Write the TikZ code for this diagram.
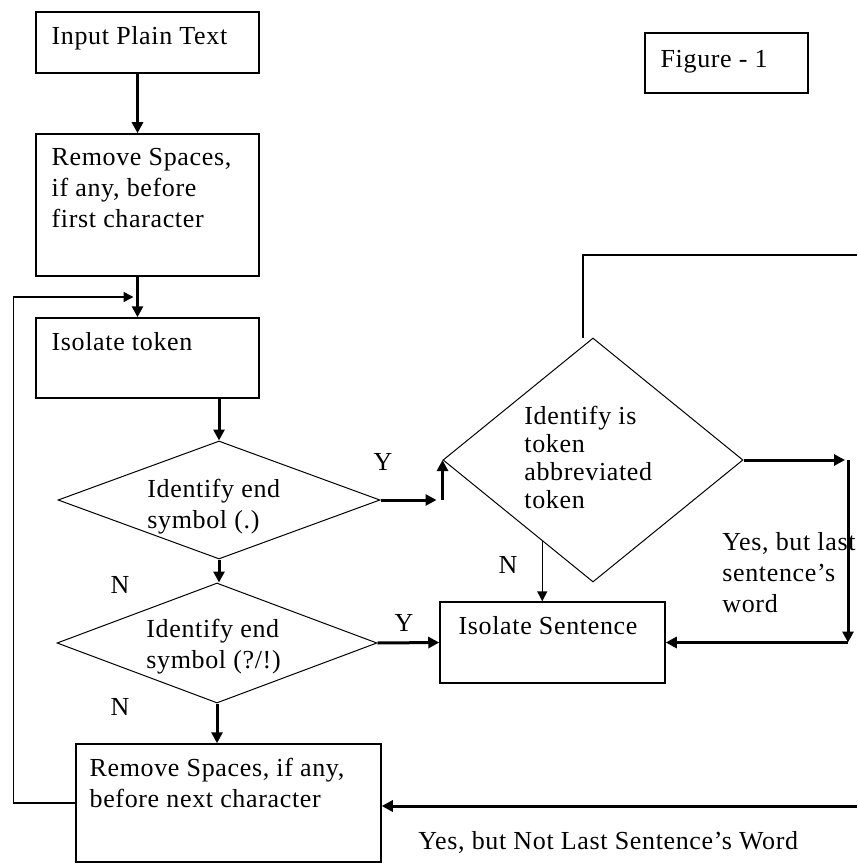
\documentclass[tikz,border=0pt]{standalone}
\usepackage{fontspec}
\setmainfont{Liberation Serif}[LetterSpace=2.5]
\usetikzlibrary{shapes.geometric,arrows.meta,calc}
\newcommand\mainsz{\fontsize{13}{15.5}\selectfont}

\begin{document}
\begin{tikzpicture}[x=0.5pt, y=-0.5pt,
    box/.style={draw, line width=0.75pt, inner sep=0pt},
    dmd/.style={draw, diamond, line width=0.5pt, inner sep=0pt},
    txt/.style={font=\mainsz, align=left, inner sep=0pt, anchor=north west},
    btxt/.style={txt, xshift=8pt, yshift=-7.5pt},
    lbl/.style={font=\mainsz, inner sep=0pt},
    arr/.style={-{Triangle[length=5.5pt,width=5.5pt]}, line width=1.5pt},
    tarr/.style={-{Triangle[length=5pt,width=5pt]}, line width=0.75pt}]
    \useasboundingbox (0,0) rectangle (857,866);

    % Left column
    \node[box, minimum width=111.5pt, minimum height=30.5pt,
      label={[btxt]north west:Input Plain Text}] (input) at (147.5,42.5) {};
    \node[box, minimum width=111.5pt, minimum height=71pt,
      label={[btxt]north west:Remove Spaces,\\if any, before\\first character}] (rmfirst) at (147.5,205) {};
    \node[box, minimum width=111.5pt, minimum height=40pt,
      label={[btxt]north west:Isolate token}] (token) at (147.5,358) {};
    \node[dmd, minimum width=161pt, minimum height=59pt] (endone) at (219,500) {};
    \node[txt] (endonetxt) at ([xshift=-36pt, yshift=10.5pt]endone.center) {Identify end\\symbol (.)};
    \node[dmd, minimum width=160pt, minimum height=60pt] (endtwo) at (217,643) {};
    \node[txt] (endtwotxt) at ([xshift=-35.5pt, yshift=12pt]endtwo.center) {Identify end\\symbol (?/!)};
    \node[box, minimum width=152.5pt, minimum height=59pt,
      label={[btxt, xshift=-1pt]north west:Remove Spaces, if any,\\before next character}] (rmnext) at (228.5,803) {};

    % Right part
    \node[dmd, minimum width=150pt, minimum height=122pt] (abbr) at (593,460) {};
    \node[txt, font=\fontsize{13}{14}\selectfont] (abbrtxt) at ([xshift=-34.5pt, yshift=27pt]abbr.center)
      {Identify is\\token\\abbreviated\\token};
    \node[box, minimum width=112.5pt, minimum height=40.5pt,
      label={[btxt, xshift=1.5pt]north west:Isolate Sentence}] (sent) at (552.5,642.5) {};
    \node[box, minimum width=81.5pt, minimum height=30pt,
      label={[btxt, yshift=-1.5pt]north west:Figure - 1}] (fig) at (726.5,63) {};

    \coordinate (topedge) at (857,255);
    \coordinate (botedge) at (857,806);
    \coordinate (ycorner) at (endone.east -| abbr.west);
    \coordinate (yescorner) at (848,460);

    % Main flow
    \draw[arr] ([xshift=-5pt]input.south) -- ([xshift=-5pt]rmfirst.north);
    \draw[arr] ([xshift=-5pt]rmfirst.south) -- ([xshift=-5pt]token.north);
    \draw[arr] (token.south -| endone.north) -- (endone.north);
    \draw[arr] (endone.south) -- (endone.south |- endtwo.north);
    \draw[arr] (endtwo.south) -- (endtwo.south |- rmnext.north);
    \draw[arr] (endtwo.east) -- (sent.west);
    \draw[arr] (endone.east) -- ([xshift=-3pt]ycorner);
    \draw[arr] (ycorner) -- (abbr.west);
    \draw[tarr] (abbr.238) -- (abbr.238 |- sent.north);

    % Abbreviation branch
    \draw[arr] (abbr.east) -- ([xshift=-1.5pt]yescorner);
    \draw[arr] (yescorner) -- (yescorner |- sent.east);
    \draw[arr] (yescorner |- sent.east) -- (sent.east);
    \draw[line width=0.75pt] ([xshift=-5pt]abbr.north) |- (topedge);
    \draw[arr] (botedge) -- (botedge -| rmnext.east);

    % Loop back to token
    \draw[tarr] (rmnext.west) -- ++(-62,0) |- ($(rmfirst.south)!0.5!(token.north)+(-14,0)$);

    % Labels
    \node[lbl] (yone) at (383,462) {Y};
    \node[lbl] (ytwo) at (404,623) {Y};
    \node[lbl] (none) at (120,585) {N};
    \node[lbl] (ntwo) at (120,707) {N};
    \node[lbl] (nthree) at (508,565) {N};
    \node[txt] (yeslast) at (722,532) {Yes, but last\\sentence’s\\word};
    \node[lbl, anchor=west] (yesnot) at (418,842) {Yes, but Not Last Sentence’s Word};
\end{tikzpicture}
\end{document}
